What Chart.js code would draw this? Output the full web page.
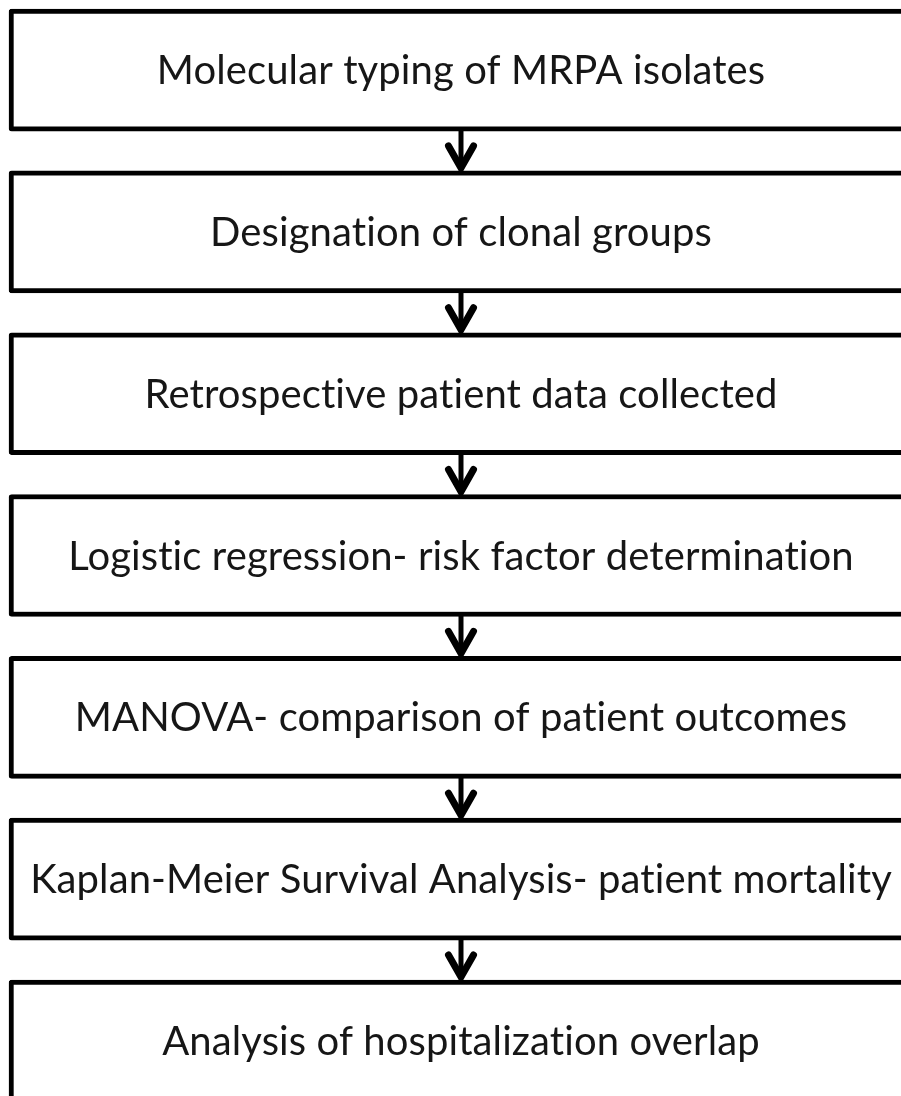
<!DOCTYPE html>
<html>
<head>
<meta charset="utf-8">
<script src="https://cdn.jsdelivr.net/npm/chart.js@4"></script>
<style>
  html, body { margin: 0; padding: 0; background: #fff; }
  #wrap { width: 901px; height: 1096px; }
</style>
</head>
<body>
<div id="wrap"><canvas id="flow" width="901" height="1096"></canvas></div>
<script>
// étapes du protocole, de haut en bas
const steps = [
    "Molecular typing of MRPA isolates",
    "Designation of clonal groups",
    "Retrospective patient data collected",
    "Logistic regression- risk factor determination",
    "MANOVA- comparison of patient outcomes",
    "Kaplan-Meier Survival Analysis- patient mortality",
    "Analysis of hospitalization overlap"
];
const stepIndex = [1, 2, 3, 4, 5, 6, 7];
const boxStart = [0, 0, 0, 0, 0, 0, 0];
const boxEnd = [1, 1, 1, 1, 1, 1, 1];

// flèches + textes dessinés par-dessus les boîtes
const flowPlugin = {
    id: 'flowPlugin',
    afterDatasetsDraw(chart) {
        const ctx = chart.ctx;
        const bars = chart.getDatasetMeta(0).data;
        ctx.save();
        ctx.strokeStyle = '#000';
        ctx.fillStyle = '#000';

        for (let i = 0; i < bars.length - 1; i++) {
            const a = bars[i].getProps(['x', 'y', 'base', 'height'], true);
            const b = bars[i + 1].getProps(['x', 'y', 'base', 'height'], true);
            const cx = (a.x + a.base) / 2;
            const y1 = a.y + a.height / 2;
            const y2 = b.y - b.height / 2;

            ctx.lineWidth = 5;
            ctx.lineCap = 'butt';
            ctx.beginPath();
            ctx.moveTo(cx, y1 - 1);
            ctx.lineTo(cx, y2 - 2);
            ctx.stroke();

            ctx.lineWidth = 7;
            ctx.lineCap = 'round';
            ctx.lineJoin = 'miter';
            ctx.beginPath();
            ctx.moveTo(cx - 12.5, y2 - 25);
            ctx.lineTo(cx, y2 - 3);
            ctx.lineTo(cx + 12.5, y2 - 25);
            ctx.stroke();
        }

        ctx.fillStyle = '#161616';
        ctx.textAlign = 'center';
        ctx.textBaseline = 'alphabetic';
        ctx.font = '40px Lato';
        if ('letterSpacing' in ctx) ctx.letterSpacing = '0.1px'; // pas de ligature "ti"
        bars.forEach((bar, i) => {
            const p = bar.getProps(['x', 'y', 'base'], true);
            ctx.fillText(steps[i], (p.x + p.base) / 2, p.y + 14);
        });
        ctx.restore();
    }
};

const canvas = document.getElementById('flow');
const chart = new Chart(canvas.getContext('2d'), {
    type: 'bar',
    data: {
        datasets: [{
            label: 'steps',
            data: stepIndex.map((s, i) => ({ x: [boxStart[i], boxEnd[i]], y: s })),
            backgroundColor: '#fff',
            borderColor: '#000',
            borderWidth: 5,
            borderRadius: 3,
            borderSkipped: false,
            barThickness: 122
        }]
    },
    options: {
        indexAxis: 'y',
        responsive: false,
        animation: false,
        layout: { padding: 0 },
        plugins: {
            legend: { display: false },
            tooltip: { enabled: false }
        },
        scales: {
            x: { type: 'linear', display: false, offset: false, min: -0.00996, max: 0.98673 },
            y: { type: 'linear', display: false, offset: false, reverse: true, min: 0.5668, max: 7.34 }
        }
    },
    plugins: [flowPlugin]
});
</script>
</body>
</html>
